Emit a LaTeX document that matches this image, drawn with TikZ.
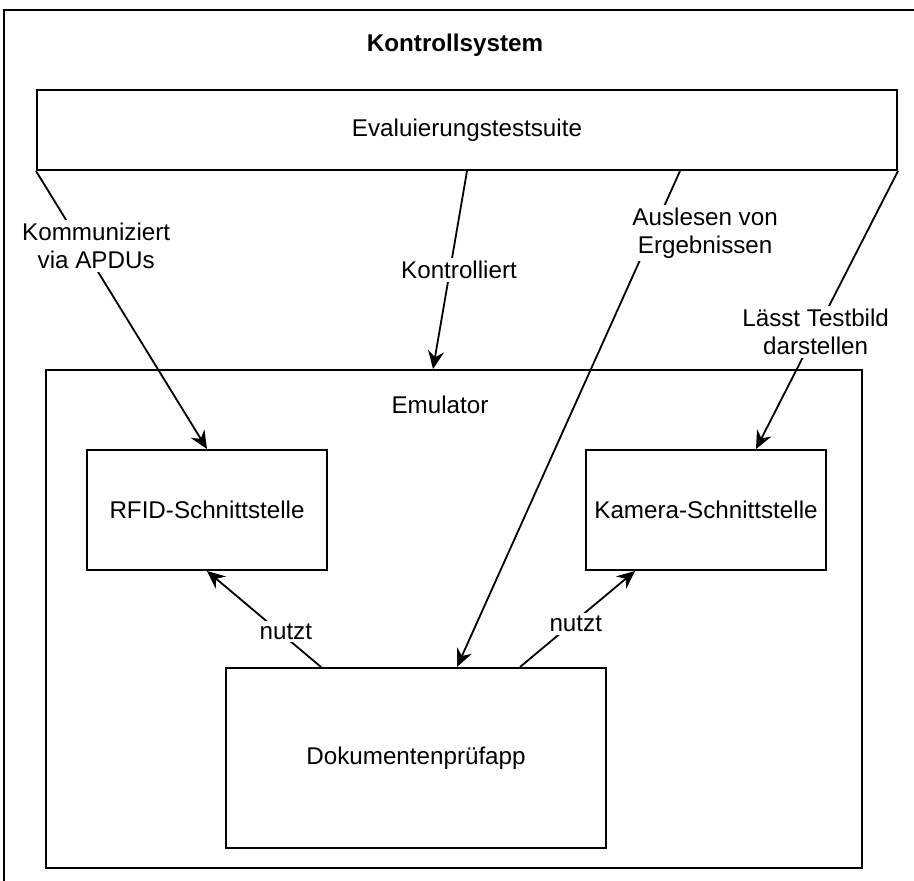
\documentclass[tikz,border=0pt]{standalone}
\usepackage{fontspec}
\setmainfont{Liberation Sans}
\usetikzlibrary{arrows.meta}

\tikzset{
  box/.style={draw, line width=1pt, rectangle, inner sep=0pt},
  lbl/.style={fill=white, inner sep=1.5pt, align=center},
  link/.style={line width=0.9pt, -{Stealth[length=9pt,width=8pt,inset=3pt]}}
}

\begin{document}
\begin{tikzpicture}[x=0.5pt, y=-0.5pt, font=\fontsize{12.1}{14}\selectfont]
\clip (0,0) rectangle (914,881);
% outer frame, runs off the page
\draw[line width=1pt] (4,920) -- (4,10) -- (940,10);
\node [font=\fontsize{12.1}{14}\selectfont\bfseries] (title) at (455,45) {Kontrollsystem};

\node [box, minimum width=430pt, minimum height=40pt] (eval) at (467,130) {Evaluierungstestsuite};
\node [box, minimum width=408pt, minimum height=249pt] (emu) at (454,619) {};
\node (emulbl) at (440,405) {Emulator};
\node [box, minimum width=120pt, minimum height=60pt] (rfid) at (207,510) {RFID-Schnittstelle};
\node [box, minimum width=120pt, minimum height=60pt] (cam) at (706,510) {Kamera-Schnittstelle};
\node [box, minimum width=190pt, minimum height=90pt] (app) at (416,758) {Dokumentenpr\"ufapp};

% connectors
\draw[link] (eval.south west) -- node[lbl, pos=0.27, xshift=7pt] {Kommuniziert\\via APDUs} (rfid.north);
\draw[link] (eval.south) -- node[lbl, pos=0.5, xshift=4.5pt] {Kontrolliert} ([xshift=-10.5pt]emu.north);
\draw[link] ([xshift=106.5pt]eval.south) -- node[lbl, pos=0.125, xshift=26.5pt] {Auslesen von\\Ergebnissen} ([xshift=20.5pt]app.north);
\draw[link] (eval.south east) -- node[lbl, pos=0.58] {L\"asst Testbild\\darstellen} ([xshift=25pt]cam.north);
\draw[link] ([xshift=-47.5pt]app.north) -- node[lbl, pos=0.37, xshift=3.5pt] {nutzt} (rfid.south);
\draw[link] ([xshift=52pt]app.north) -- node[lbl, pos=0.45, xshift=2pt] {nutzt} ([xshift=-35.5pt]cam.south);
\end{tikzpicture}
\end{document}
